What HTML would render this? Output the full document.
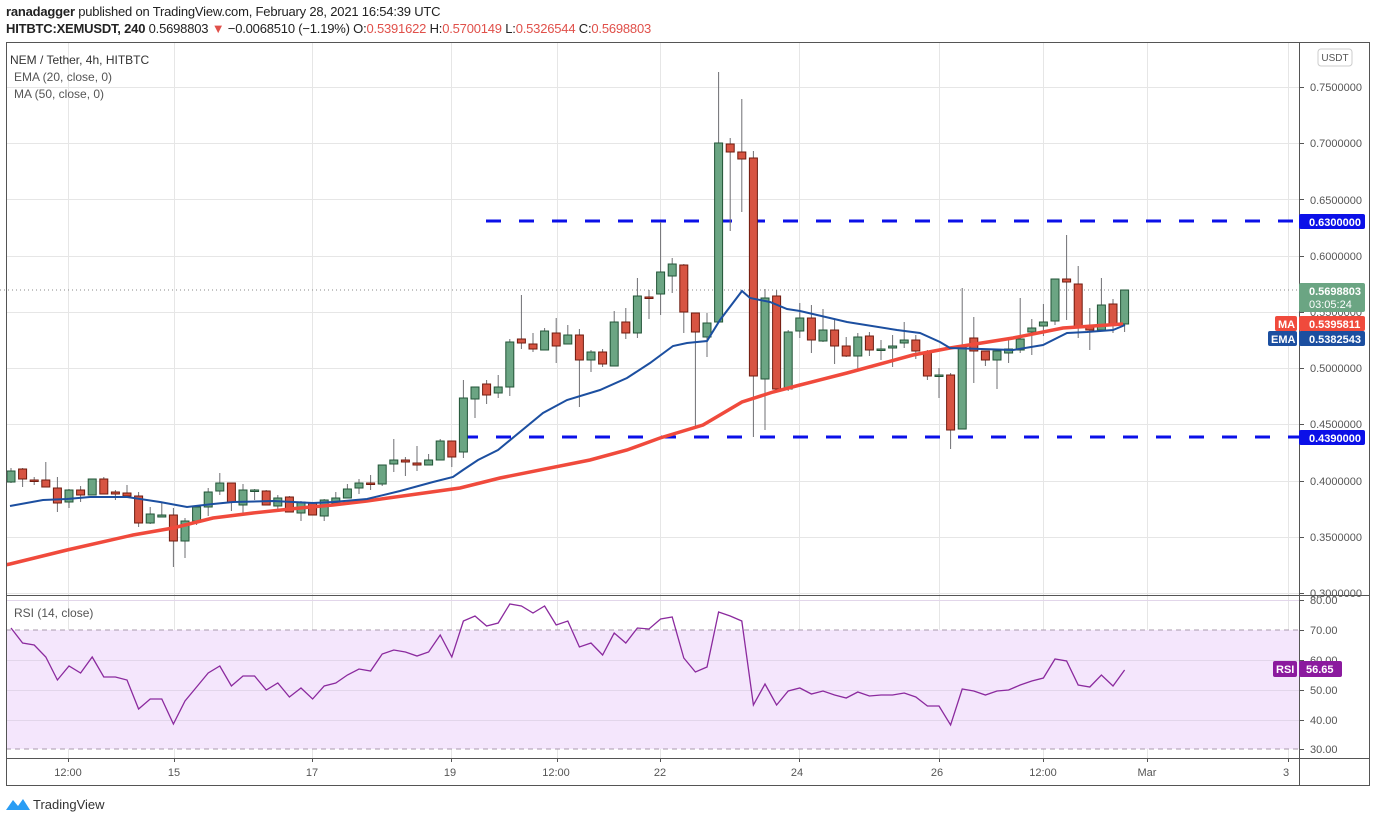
<!DOCTYPE html>
<html><head><meta charset="utf-8">
<style>
html,body{margin:0;padding:0;background:#fff;}
body{width:1376px;height:823px;position:relative;overflow:hidden;font-family:"Liberation Sans",sans-serif;}
.hd{position:absolute;left:6px;font-size:13px;color:#222;white-space:nowrap;letter-spacing:-0.2px}
.rd{color:#e0504a}
svg text{font-family:"Liberation Sans",sans-serif;}
</style></head><body>
<div class="hd" style="top:4px"><b>ranadagger</b> published on TradingView.com, February 28, 2021 16:54:39 UTC</div>
<div class="hd" style="top:21px"><b>HITBTC:XEMUSDT, 240</b> 0.5698803 <span class="rd">▼</span> −0.0068510 (−1.19%) O:<span class="rd">0.5391622</span> H:<span class="rd">0.5700149</span> L:<span class="rd">0.5326544</span> C:<span class="rd">0.5698803</span></div>
<svg id="s" width="1376" height="823" style="position:absolute;left:0;top:0" xmlns="http://www.w3.org/2000/svg">
<defs>
<clipPath id="cp"><rect x="6" y="42" width="1293" height="553"/></clipPath>
<clipPath id="cr"><rect x="6" y="596" width="1293" height="162"/></clipPath>
</defs>
<g id="grid" stroke="#e6e6e6" stroke-width="1"></g>
<rect x="6" y="630" width="1293" height="119" fill="#f4e6fc"/>
<line x1="6" x2="1299" y1="630" y2="630" stroke="#a89aad" stroke-dasharray="5,4"/>
<line x1="6" x2="1299" y1="749" y2="749" stroke="#a89aad" stroke-dasharray="5,4"/>
<g id="rg" stroke="#e2d6ea" stroke-width="1"></g>
<line x1="0" x2="1299" y1="290" y2="290" stroke="#8a8a8a" stroke-dasharray="1,3"/>
<g clip-path="url(#cp)">
<line x1="486" x2="1299" y1="221" y2="221" stroke="#0b10e8" stroke-width="3" stroke-dasharray="15,18"/>
<line x1="463" x2="1299" y1="437" y2="437" stroke="#0b10e8" stroke-width="3" stroke-dasharray="15,18"/>
<g id="cd"></g>
<polyline id="ma" fill="none" stroke="#f04a3c" stroke-width="3.5" points="0,566 10,564 67,550 133,535 173,528 213,518 253,513 300,508 333,505 367,501 417,494 460,488 500,478 590,460 627,450 660,438 703,425 742,402 773,392 800,385 847,373 913,355 950,348 1013,338 1063,328 1123,324"/>
<polyline id="ema" fill="none" stroke="#1c4fa0" stroke-width="2" points="10,506 43,500 67,499 90,497 127,497 160,502 187,507 213,504 233,502 273,501 313,503 333,502 367,499 400,491 433,482 453,477 463,470 478,460 498,450 543,413 567,400 600,390 627,378 650,363 673,346 687,343 707,341 720,320 742,291 750,298 770,302 787,309 800,311 847,322 897,330 920,333 940,342 950,348 1013,350 1043,345 1067,333 1087,332 1113,330 1125,325"/>
</g>
<g clip-path="url(#cr)"><polyline id="rsi" fill="none" stroke="#8b2a9e" stroke-width="1.3"/></g>
<rect x="6.5" y="42.5" width="1363" height="743" fill="none" stroke="#555" stroke-width="1"/>
<line x1="1299.5" x2="1299.5" y1="42" y2="786" stroke="#555"/>
<line x1="6" x2="1370" y1="595.5" y2="595.5" stroke="#555"/>
<line x1="6" x2="1370" y1="758.5" y2="758.5" stroke="#555"/>
<g id="ticks" stroke="#555"></g>
<g font-size="11" fill="#555">
<text x="10" y="64" font-size="12" fill="#333">NEM / Tether, 4h, HITBTC</text>
<text x="14" y="81" font-size="12" fill="#555">EMA (20, close, 0)</text>
<text x="14" y="98" font-size="12" fill="#555">MA (50, close, 0)</text>
<text x="14" y="617" font-size="12" fill="#555">RSI (14, close)</text>
<text x="1310" y="91">0.7500000</text>
<text x="1310" y="147">0.7000000</text>
<text x="1310" y="204">0.6500000</text>
<text x="1310" y="260">0.6000000</text>
<text x="1310" y="316">0.5500000</text>
<text x="1310" y="372">0.5000000</text>
<text x="1310" y="428">0.4500000</text>
<text x="1310" y="485">0.4000000</text>
<text x="1310" y="541">0.3500000</text>
<text x="1310" y="597">0.3000000</text>
<text x="1310" y="604">80.00</text>
<text x="1310" y="634">70.00</text>
<text x="1310" y="664">60.00</text>
<text x="1310" y="694">50.00</text>
<text x="1310" y="724">40.00</text>
<text x="1310" y="753">30.00</text>
<text x="68" y="776" text-anchor="middle">12:00</text>
<text x="174" y="776" text-anchor="middle">15</text>
<text x="312" y="776" text-anchor="middle">17</text>
<text x="450" y="776" text-anchor="middle">19</text>
<text x="556" y="776" text-anchor="middle">12:00</text>
<text x="660" y="776" text-anchor="middle">22</text>
<text x="797" y="776" text-anchor="middle">24</text>
<text x="937" y="776" text-anchor="middle">26</text>
<text x="1043" y="776" text-anchor="middle">12:00</text>
<text x="1147" y="776" text-anchor="middle">Mar</text>
<text x="1286" y="776" text-anchor="middle">3</text>
</g>
<rect x="1318" y="49" width="34" height="17" rx="3" fill="#fff" stroke="#ccc"/>
<text x="1335" y="61" font-size="10" fill="#555" text-anchor="middle">USDT</text>
<g font-size="11" font-weight="bold" fill="#fff">
<rect x="1299" y="214" width="66" height="15" rx="2" fill="#0b10e8"/><text x="1309" y="226">0.6300000</text>
<rect x="1299" y="283" width="66" height="29" rx="2" fill="#6ba583"/><text x="1309" y="295">0.5698803</text><text x="1309" y="308" font-weight="normal">03:05:24</text>
<rect x="1275" y="316" width="22" height="15" rx="2" fill="#f04a3c"/><text x="1278" y="328">MA</text>
<rect x="1299" y="316" width="66" height="15" rx="2" fill="#f04a3c"/><text x="1309" y="328">0.5395811</text>
<rect x="1268" y="331" width="29" height="15" rx="2" fill="#1c4fa0"/><text x="1271" y="343">EMA</text>
<rect x="1299" y="331" width="66" height="15" rx="2" fill="#1c4fa0"/><text x="1309" y="343">0.5382543</text>
<rect x="1299" y="430" width="66" height="15" rx="2" fill="#0b10e8"/><text x="1309" y="442">0.4390000</text>
<rect x="1273" y="661" width="24" height="16" rx="2" fill="#8b1a9e"/><text x="1276" y="673">RSI</text>
<rect x="1299" y="661" width="43" height="16" rx="2" fill="#8b1a9e"/><text x="1306" y="673">56.65</text>
</g>
<g transform="translate(6,796)">
<path d="M0,14 L7,4 L12,10 L17,3 L24,14 Z" fill="#2a9df4"/>
<text x="27" y="13" font-size="13" fill="#333">TradingView</text>
</g>
</svg>
<script>
var NS="http://www.w3.org/2000/svg",s=document.getElementById('s');
function el(t,a,p){var e=document.createElementNS(NS,t);for(var k in a)e.setAttribute(k,a[k]);p.appendChild(e);return e;}
var g=document.getElementById('grid');
[87,143,199,256,312,368,424,481,537,593].forEach(function(y){el('line',{x1:6,x2:1299,y1:y+.5,y2:y+.5},g);});
var rg=document.getElementById('rg');
[600,660,690,720].forEach(function(y){el('line',{x1:6,x2:1299,y1:y+.5,y2:y+.5},rg);});
var tk=document.getElementById('ticks');
[68,174,312,451,557,660,799,939,1043,1147,1288].forEach(function(x){el('line',{x1:x+.5,x2:x+.5,y1:42,y2:758,stroke:'#e6e6e6'},g);el('line',{x1:x+.5,x2:x+.5,y1:758,y2:762},tk);});
[87,143,199,256,312,368,424,481,537,593,600,630,660,690,720,749].forEach(function(y){el('line',{x1:1299,x2:1304,y1:y+.5,y2:y+.5},tk);});
var D=[[482,471,468,483],[469,479,468,487],[480,481,477,485],[480,487,462,487],[488,503,477,512],[502,490,489,508],[490,495,486,502],[495,479,479,495],[479,494,477,494],[492,494,490,500],[493,496,485,498],[496,523,492,527],[523,514,507,524],[517,515,503,517],[515,541,508,567],[541,521,518,558],[521,507,505,525],[507,492,488,516],[491,483,473,495],[483,502,483,511],[505,490,484,515],[491,490,489,500],[491,505,490,505],[506,498,495,511],[497,512,496,512],[513,502,501,521],[503,515,503,515],[516,500,499,521],[503,498,492,503],[498,489,484,498],[488,483,479,494],[483,484,475,490],[484,465,465,486],[464,460,439,472],[460,462,457,476],[463,465,446,471],[465,460,454,465],[460,441,439,460],[441,457,441,467],[452,398,380,458],[399,387,387,418],[384,395,380,404],[393,387,375,398],[387,342,339,396],[339,343,295,349],[344,349,333,352],[350,331,328,350],[333,346,318,363],[344,335,325,344],[335,360,329,407],[360,352,350,372],[352,364,349,367],[366,322,311,366],[322,333,308,339],[333,296,278,338],[297,298,290,319],[294,272,222,315],[276,264,258,293],[265,312,264,333],[313,332,313,427],[337,323,313,357],[322,143,72,322],[144,152,138,231],[152,159,99,212],[158,376,151,437],[379,298,289,430],[296,389,290,389],[389,332,330,391],[331,318,303,338],[318,340,305,353],[341,330,309,342],[330,346,319,364],[346,356,337,357],[356,337,333,371],[336,350,332,356],[350,349,340,360],[348,346,335,367],[343,340,322,348],[340,351,335,359],[352,376,350,380],[376,375,368,398],[375,430,373,449],[429,347,288,429],[338,351,317,383],[351,360,351,366],[360,351,351,389],[353,349,340,363],[350,339,298,353],[332,328,319,355],[326,322,304,336],[321,279,279,325],[279,282,235,320],[284,326,266,338],[327,330,308,350],[330,305,278,330],[304,324,299,333],[324,290,290,332]];
var cd=document.getElementById('cd');
D.forEach(function(d,i){var x=11+11.6*i,up=d[1]<d[0];
el('line',{x1:x,x2:x,y1:d[2],y2:d[3],stroke:'#6f6f73','stroke-width':1},cd);
var y=Math.min(d[0],d[1]),h=Math.max(1.5,Math.abs(d[0]-d[1]));
el('rect',{x:x-4,y:y,width:8,height:h,fill:up?'#6ba583':'#d75442',stroke:up?'#225437':'#6f1b0f','stroke-width':1},cd);});
var R=[628,643,645,657,680,666,673,657,677,677,680,709,699,699,724,701,687,673,666,686,676,676,690,683,697,688,699,686,683,675,669,671,654,650,652,656,652,635,657,621,616,626,623,604,606,613,606,625,621,647,643,655,633,643,628,629,619,617,658,672,667,612,616,621,705,684,705,691,688,694,691,695,698,692,696,695,695,693,697,706,706,725,689,691,695,691,690,685,681,678,659,661,685,687,675,686,670];
document.getElementById('rsi').setAttribute('points',R.map(function(y,i){return (11+11.6*i).toFixed(1)+','+y;}).join(' '));
</script>
</body></html>
